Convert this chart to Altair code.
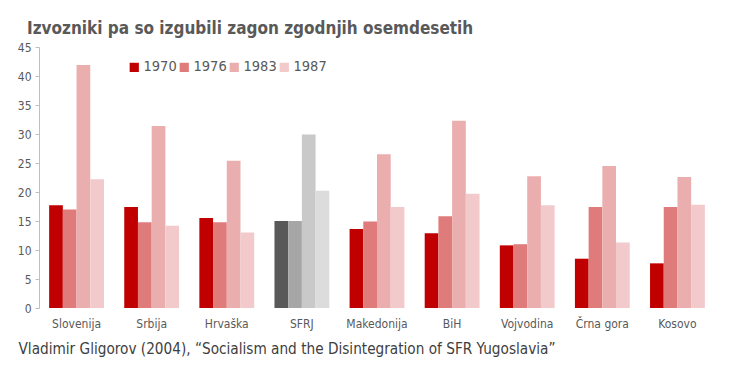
import altair as alt
import pandas as pd

regions = ["Slovenija", "Srbija", "Hrvaška", "SFRJ", "Makedonija", "BiH", "Vojvodina", "Črna gora", "Kosovo"]
years = ["1970", "1976", "1983", "1987"]
v1970 = [17.7, 17.4, 15.5, 15.0, 13.6, 12.9, 10.8, 8.5, 7.7]
v1976 = [17.0, 14.8, 14.8, 15.0, 14.9, 15.8, 11.0, 17.4, 17.4]
v1983 = [41.9, 31.4, 25.4, 29.9, 26.5, 32.3, 22.7, 24.5, 22.6]
v1987 = [22.2, 14.2, 13.0, 20.2, 17.4, 19.7, 17.7, 11.3, 17.8]
red_colors = ["#C00000", "#E07B7C", "#EBAEAE", "#F2CACB"]
grey_colors = ["#595959", "#A6A6A6", "#C9C9C9", "#DCDCDC"]
y_ticks = [0, 5, 10, 15, 20, 25, 30, 35, 40, 45]

rows = []
for yr, vals in zip(years, [v1970, v1976, v1983, v1987]):
    for r, v in zip(regions, vals):
        rows.append({"region": r, "year": yr, "value": v})
df = pd.DataFrame(rows)

FONT = "Liberation Sans Narrow, DejaVu Sans Condensed, sans-serif"
GREY = "#595959"

x_enc = alt.X(
    "region:N", sort=regions,
    scale=alt.Scale(paddingInner=0.27, paddingOuter=0.135),
    axis=alt.Axis(
        title="Vladimir Gligorov (2004), “Socialism and the Disintegration of SFR Yugoslavia”",
        titleAnchor="start", titleAlign="left", titleX=-21, titleY=45,
        titleBaseline="alphabetic", titleFont=FONT, titleFontSize=15.2,
        titleFontWeight="normal", titleColor="#404040",
        labelAngle=0, labelFont=FONT, labelFontSize=12, labelColor=GREY,
        labelPadding=10, domain=False, ticks=False,
    ),
)
y_enc = alt.Y(
    "value:Q",
    scale=alt.Scale(domain=[0, 45], nice=False),
    axis=alt.Axis(
        title=None, values=y_ticks, grid=False, domainColor="#BFBFBF",
        tickColor="#BFBFBF", tickSize=4, labelFont=FONT, labelFontSize=12,
        labelColor=GREY, labelPadding=4,
    ),
)
xo = alt.XOffset("year:N", sort=years, scale=alt.Scale(paddingInner=0))

base = alt.Chart(df)
reds = base.transform_filter(alt.datum.region != "SFRJ").mark_bar().encode(
    x=x_enc, y=y_enc, xOffset=xo,
    color=alt.Color(
        "year:N", sort=years,
        scale=alt.Scale(domain=years, range=red_colors),
        legend=alt.Legend(
            title=None, orient="none", direction="horizontal", legendX=88, legendY=13,
            symbolType="square", symbolSize=85, symbolStrokeWidth=0,
            labelFont=FONT, labelFontSize=14.5, labelColor=GREY, columnPadding=0,
            symbolOffset=0, labelOffset=2,
        ),
    ),
)
greys = base.transform_filter(alt.datum.region == "SFRJ").mark_bar().encode(
    x=x_enc, y=y_enc, xOffset=xo,
    color=alt.Color("year:N", sort=years,
                    scale=alt.Scale(domain=years, range=grey_colors), legend=None),
)

chart = alt.layer(reds, greys).resolve_scale(color="independent").properties(
    width=676, height=261, autosize="none", background="white",
    padding={"left": 31, "top": 39, "right": 5, "bottom": 52},
    title=alt.TitleParams(
        "Izvozniki pa so izgubili zagon zgodnjih osemdesetih",
        anchor="start", frame="group", dx=-12, dy=1, font=FONT, fontSize=17,
        fontWeight="bold", color=GREY,
    ),
).configure_view(stroke=None)

chart.save("out.html", embed_options={"renderer": "svg", "actions": False})
